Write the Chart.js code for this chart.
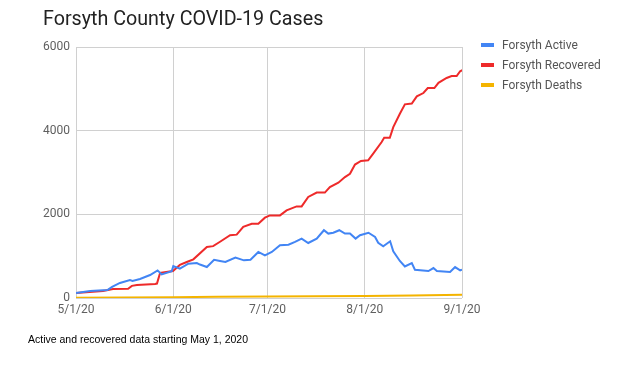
<!DOCTYPE html>
<html><head><meta charset="utf-8">
<script src="https://cdn.jsdelivr.net/npm/chart.js@4/dist/chart.umd.min.js"></script>
<style>
html,body{margin:0;padding:0;background:#fff;width:624px;height:379px;overflow:hidden;position:relative}
#c{position:absolute;left:0;top:0}
#title{position:absolute;left:43px;top:7px;font:19.7px Roboto,sans-serif;color:#222;white-space:nowrap}
#legend{position:absolute;left:481px;top:35px;font:12px Roboto,sans-serif;color:#555}
.li{height:20px;line-height:16px;white-space:nowrap;display:flex;align-items:center}
.sw{width:13px;height:4px;margin-right:8px;display:inline-block}
#note{position:absolute;left:28px;top:333px;font:10.5px "Liberation Sans",Arial,sans-serif;color:#000;white-space:nowrap}
</style></head><body>
<canvas id="c" width="624" height="379"></canvas>
<div id="title">Forsyth County COVID-19 Cases</div>
<div id="legend"></div>
<div id="note">Active and recovered data starting May 1, 2020</div>
<script>
const seriesNames = ['Forsyth Active','Forsyth Recovered','Forsyth Deaths'];
const seriesColors = ['#4285f4','#ee2a2a','#f4b400'];
const tickDays = [0,31,61,92,123];
const tickLabels = ['5/1/20','6/1/20','7/1/20','8/1/20','9/1/20'];
const yTicks = [0,2000,4000,6000];

const activeDays =   [0,4.5,10,11.5,14,17.2,18,20.4,23.6,26,27.3,30.5,31,33.1,35.8,38.5,39.5,41.7,44,45.9,47.6,50.8,53.5,55.6,58.1,60.2,62.4,65,67.7,69.8,71.9,74,76.7,79,80.4,82,83.9,85.7,87.3,89.1,90.5,93.2,95.3,96.3,97.9,100.1,101.1,103.2,104.8,107,108,112.3,113.9,115,119.2,120.8,122.4,123];
const activeValues = [120,170,190,265,360,430,410,455,550,660,565,640,765,700,820,835,800,740,915,885,860,965,900,915,1100,1020,1100,1260,1275,1340,1420,1315,1420,1620,1540,1560,1620,1540,1540,1420,1500,1560,1460,1320,1235,1355,1115,885,755,835,675,645,715,645,620,740,660,680];

const recoveredDays =   [0,8.6,11.8,16.6,17.8,19.4,25.2,25.8,26.8,30.9,33.1,35.3,37.4,41.7,43.7,45.9,49.1,51.2,53.3,56,58.1,60.2,61.8,65,67.1,70.3,71.9,74,76.7,79.3,80.9,83.6,85.7,87.3,88.9,90.8,93.1,94.7,97.4,98.2,100,101.1,103.2,104.8,107,108.6,110.7,112.1,114.2,115.5,118.1,119.7,121.3,122.4,123.1];
const recoveredValues = [120,170,215,222,290,310,335,345,600,645,790,860,925,1220,1240,1345,1500,1515,1700,1775,1775,1920,1975,1975,2095,2190,2190,2415,2520,2520,2650,2755,2890,2970,3190,3275,3290,3450,3730,3830,3830,4085,4405,4630,4650,4820,4900,5020,5020,5145,5260,5305,5305,5420,5445];

const deathsDays =   [0,15,31,45,61,76,92,107,123];
const deathsValues = [8,12,20,28,35,42,50,60,75];

function pts(d,v){return d.map((x,i)=>({x:x,y:v[i]}));}
const dataSets = [pts(activeDays,activeValues),pts(recoveredDays,recoveredValues),pts(deathsDays,deathsValues)];

const lg = document.getElementById('legend');
seriesNames.forEach((n,i)=>{
  const d=document.createElement('div');d.className='li';
  d.innerHTML='<span class="sw" style="background:'+seriesColors[i]+'"></span>'+n;
  lg.appendChild(d);
});

new Chart(document.getElementById('c'),{
  type:'line',
  data:{datasets:seriesNames.map((n,i)=>({label:n,data:dataSets[i],borderColor:seriesColors[i],backgroundColor:seriesColors[i],borderWidth:2,pointRadius:0,tension:0,fill:false}))},
  options:{
    responsive:false,animation:false,
    layout:{padding:{left:0,top:47,right:162,bottom:0}},
    plugins:{legend:{display:false},title:{display:false},tooltip:{enabled:false}},
    scales:{
      x:{type:'linear',min:0,max:123,
        afterBuildTicks:s=>{s.ticks=tickDays.map(v=>({value:v}));},
        afterFit:s=>{s.height=81;},
        ticks:{callback:(v)=>{const k=tickDays.indexOf(v);return k>=0?tickLabels[k]:'';},color:'#5f5f5f',font:{family:'Roboto',size:12},padding:5,maxRotation:0,autoSkip:false},
        grid:{color:'#d0d0d0',drawTicks:false},border:{display:false}},
      y:{min:0,max:6000,
        afterBuildTicks:s=>{s.ticks=yTicks.map(v=>({value:v}));},
        afterFit:s=>{s.width=76;},
        ticks:{callback:(v)=>String(v),color:'#5f5f5f',font:{family:'Roboto',size:12},padding:6},
        grid:{color:'#d0d0d0',drawTicks:false},border:{display:false}}
    }
  }
});
</script>
</body></html>
